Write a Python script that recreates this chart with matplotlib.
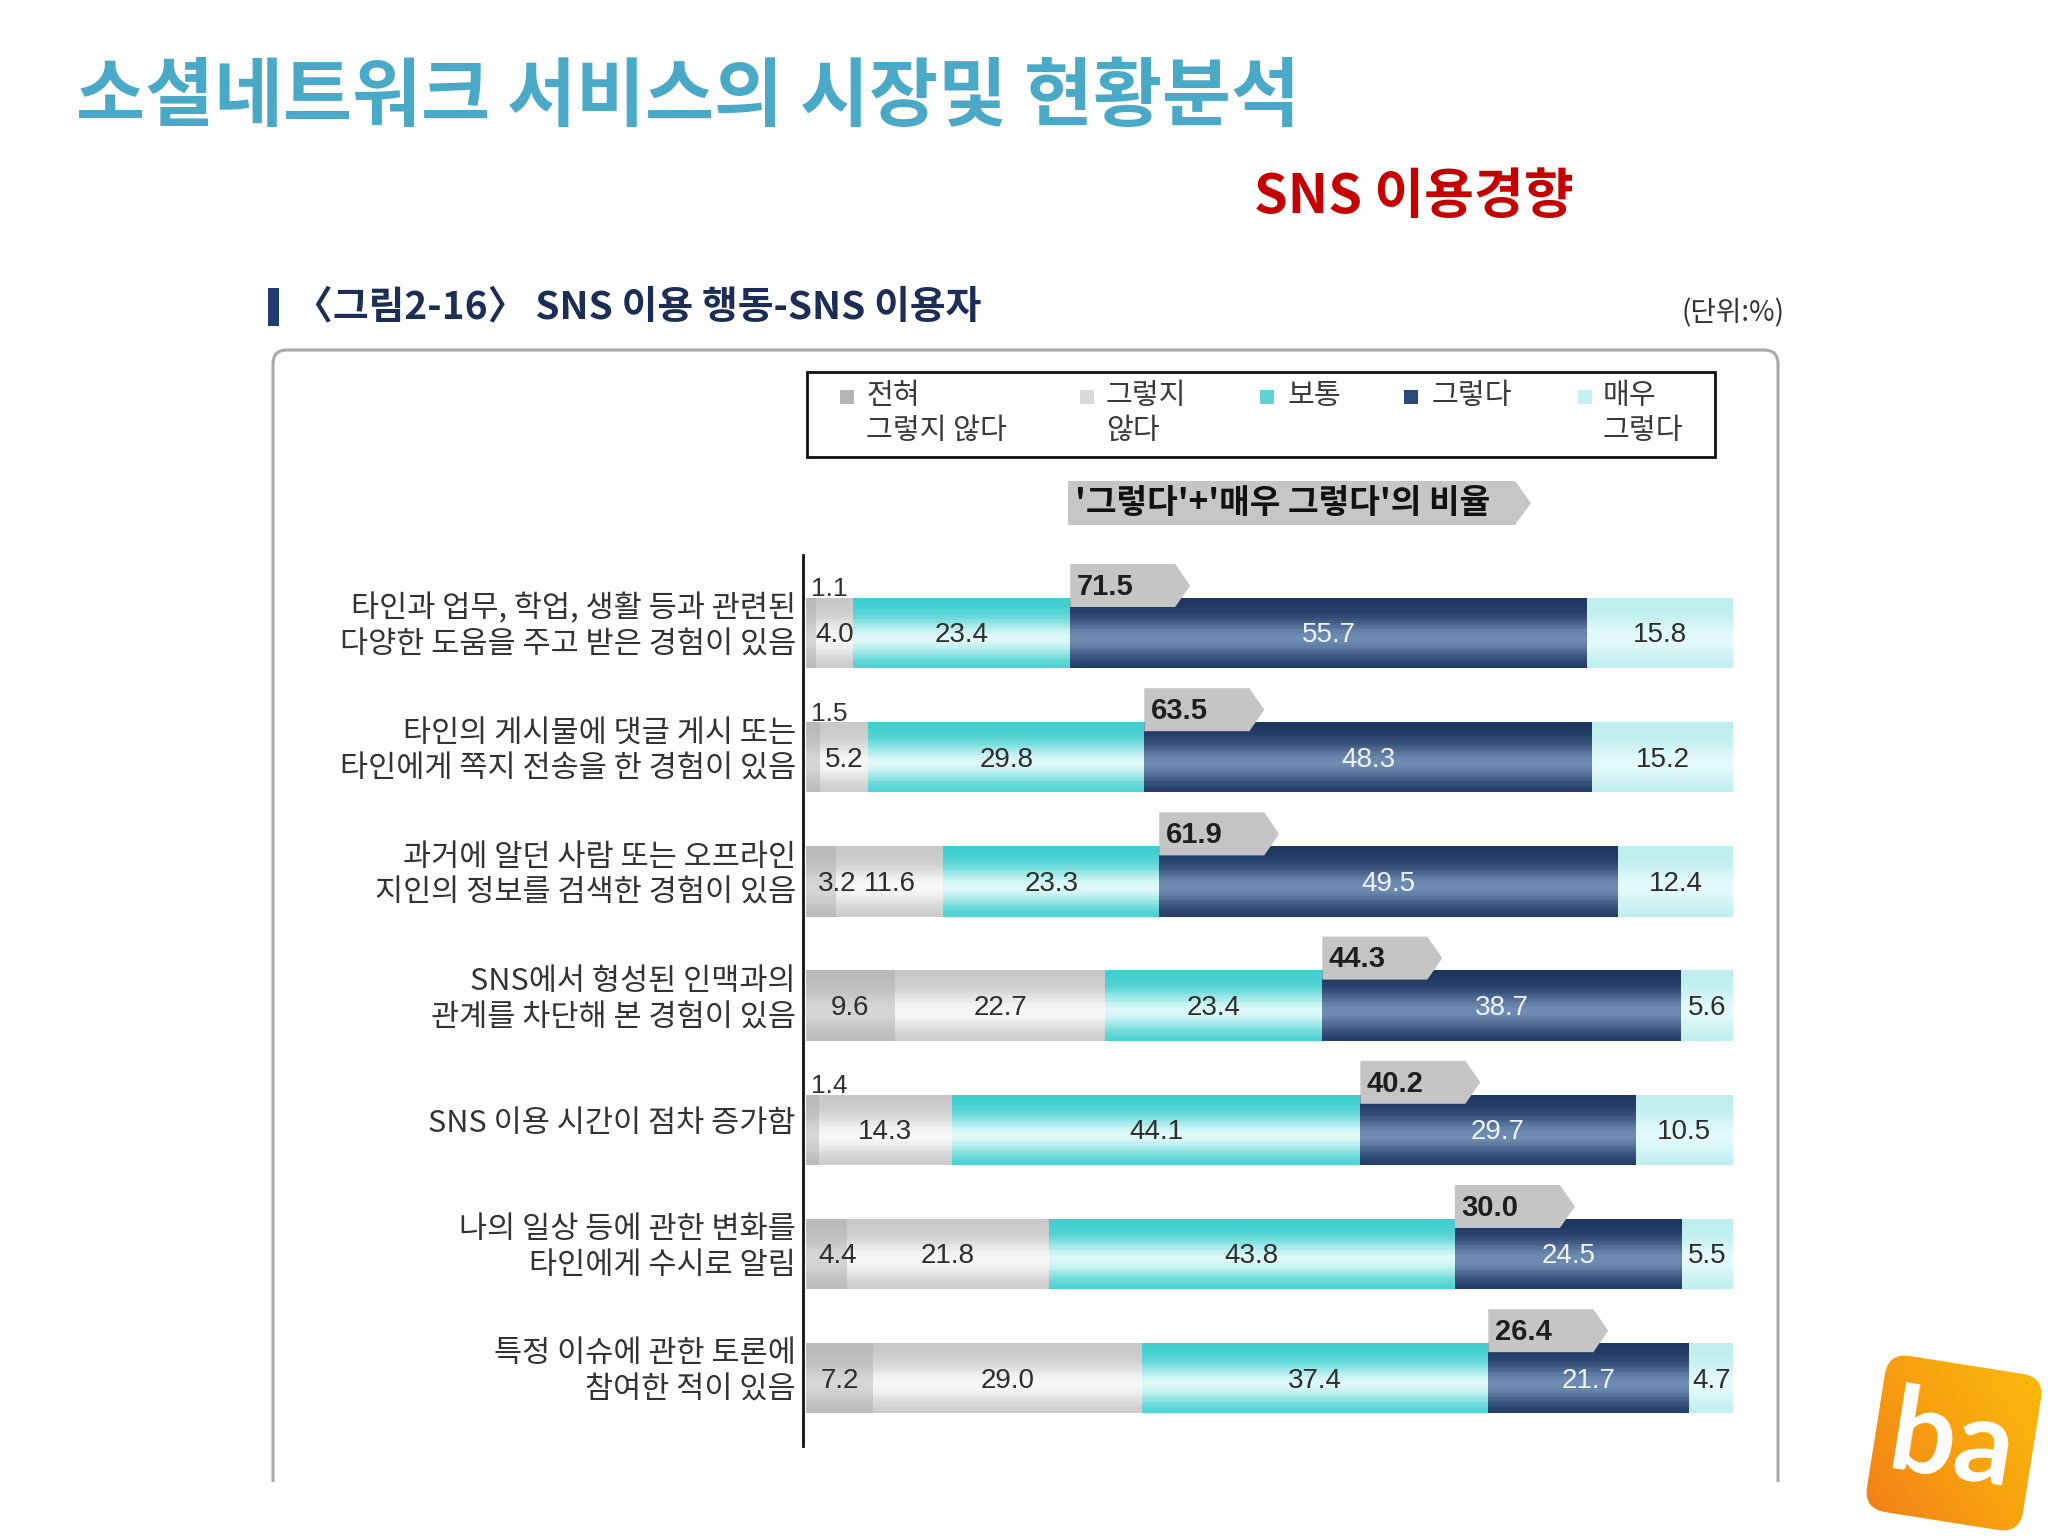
import numpy as np
import matplotlib
matplotlib.use("Agg")
import matplotlib.pyplot as plt
from matplotlib.patches import FancyBboxPatch, Rectangle, Polygon
from matplotlib import font_manager as fm
from matplotlib.colors import LinearSegmentedColormap
import matplotlib.transforms as mtrans

# ---------------- data ----------------
categories = [
    "타인과 업무, 학업, 생활 등과 관련된\n다양한 도움을 주고 받은 경험이 있음",
    "타인의 게시물에 댓글 게시 또는\n타인에게 쪽지 전송을 한 경험이 있음",
    "과거에 알던 사람 또는 오프라인\n지인의 정보를 검색한 경험이 있음",
    "SNS에서 형성된 인맥과의\n관계를 차단해 본 경험이 있음",
    "SNS 이용 시간이 점차 증가함",
    "나의 일상 등에 관한 변화를\n타인에게 수시로 알림",
    "특정 이슈에 관한 토론에\n참여한 적이 있음",
]
legend_labels = ["전혀\n그렇지 않다", "그렇지\n않다", "보통", "그렇다", "매우\n그렇다"]
strongly_disagree = [1.1, 1.5, 3.2, 9.6, 1.4, 4.4, 7.2]
disagree = [4.0, 5.2, 11.6, 22.7, 14.3, 21.8, 29.0]
neutral = [23.4, 29.8, 23.3, 23.4, 44.1, 43.8, 37.4]
agree = [55.7, 48.3, 49.5, 38.7, 29.7, 24.5, 21.7]
strongly_agree = [15.8, 15.2, 12.4, 5.6, 10.5, 5.5, 4.7]
agree_total = [71.5, 63.5, 61.9, 44.3, 40.2, 30.0, 26.4]

title = "소셜네트워크 서비스의 시장및 현황분석"
subtitle = "SNS 이용경향"
caption = "〈그림2-16〉 SNS 이용 행동-SNS 이용자"
unit = "(단위:%)"
header_tag = "'그렇다'+'매우 그렇다'의 비율"

# ---------------- fonts ----------------
avail = {f.name for f in fm.fontManager.ttflist}
KR = "Noto Sans CJK KR"
if "Liberation Sans Narrow" in avail:
    NUM, NUM_SIZE = "Liberation Sans Narrow", 23
else:
    NUM, NUM_SIZE = "Liberation Sans", 20
plt.rcParams["font.family"] = [KR, "DejaVu Sans"]

W, H, DPI = 2048, 1536, 100
fig = plt.figure(figsize=(W / DPI, H / DPI), dpi=DPI, facecolor="white")

# overlay axes in pixel coordinates (y downward)
ov = fig.add_axes([0, 0, 1, 1], zorder=0)
ov.set_xlim(0, W)
ov.set_ylim(H, 0)
ov.axis("off")

# titles
ov.text(76, 98, title, fontsize=54, fontweight="bold", color="#49a9c6",
        va="center", ha="left")
ov.text(1254, 197, subtitle, fontsize=39, fontweight="bold", color="#c40000",
        va="center", ha="left")
ov.add_patch(Rectangle((268, 288), 11, 38, color="#1f3d6e", lw=0))
ov.text(294, 307, caption, fontsize=28, fontweight="bold", color="#1c2e55",
        va="center", ha="left")
ov.text(1785, 313, unit, fontsize=20, color="#333333", va="center", ha="right")

# frame (top + sides, bottom cut)
frame = FancyBboxPatch((273, 350), 1505, 1300,
                       boxstyle="round,pad=0,rounding_size=14",
                       fc="none", ec="#a9a9a9", lw=2.2)
ov.add_patch(frame)
ov.add_patch(Rectangle((250, 1482), 1580, 80, fc="white", ec="none", zorder=3))

# legend box
ov.add_patch(Rectangle((807, 372), 908, 85, fc="white", ec="#111111", lw=2))
leg_colors = ["#b5b5b5", "#dadada", "#5fd3d3", "#2b4a7a", "#c5f1f1"]
marker_x = [840, 1080, 1260, 1404, 1578]
text_x = [866, 1106, 1288, 1432, 1603]
for mx, tx, lab, c in zip(marker_x, text_x, legend_labels, leg_colors):
    ov.add_patch(Rectangle((mx, 390), 14, 14, fc=c, ec="none"))
    ov.text(tx, 381, lab, fontsize=21, color="#3a3a3a", va="top", ha="left",
            linespacing=1.22)

# header tag
hx0, hx1, hy0, hy1, ha_ = 1068, 1531, 481, 525, 16
ov.add_patch(Polygon([(hx0, hy0), (hx1 - ha_, hy0), (hx1, (hy0 + hy1) / 2),
                      (hx1 - ha_, hy1), (hx0, hy1)], closed=True,
                     fc="#c6c6c6", ec="none"))
ov.text(hx0 + 7, (hy0 + hy1) / 2 + 1, header_tag, fontsize=24, fontweight="bold",
        color="#111111", va="center", ha="left")

# logo
cx, cy, s = 1954, 1443, 158
rot = mtrans.Affine2D().rotate_deg_around(cx, cy, 9) + ov.transData
logo = FancyBboxPatch((cx - s / 2, cy - s / 2), s, s,
                      boxstyle="round,pad=0,rounding_size=22",
                      fc="none", ec="none", transform=rot)
ov.add_patch(logo)
gx = np.linspace(0, 1, 64)
grad = (gx[None, :] * 0.6 + (1 - gx[:, None]) * 0.4)
ocmap = LinearSegmentedColormap.from_list("o", ["#f2741a", "#f7a10f", "#fcc20a"])
im = ov.imshow(grad, cmap=ocmap, extent=(cx - 110, cx + 110, cy + 110, cy - 110),
               aspect="auto", zorder=4, interpolation="bilinear")
im.set_clip_path(logo)
ov.text(cx - 2, cy + 2, "ba", fontsize=84, fontweight="bold", color="white",
        family="Lato", ha="center", va="center", rotation=-9,
        rotation_mode="anchor", zorder=5)
ov.set_xlim(0, W)
ov.set_ylim(H, 0)

# ---------------- main chart ----------------
px_per = (1733 - 806) / 100.0
x_left = -(806 - 803) / px_per
row0, row_step = 633, 124.2
ax_top, ax_bot = 555, 1446
ax = fig.add_axes([803 / W, 1 - ax_bot / H, (1733 - 803) / W, (ax_bot - ax_top) / H],
                  zorder=1)
ax.patch.set_alpha(0)
ax.set_xlim(x_left, 100)
ax.set_ylim(6 + (ax_bot - row0 - 6 * row_step) / row_step, -(row0 - ax_top) / row_step)

segments = [strongly_disagree, disagree, neutral, agree, strongly_agree]
vals = np.array(segments, dtype=float)
lefts = np.vstack([np.zeros(vals.shape[1]), np.cumsum(vals, axis=0)[:-1]])
rows = np.arange(len(categories))

edge_c = ["#b9b9b9", "#c8c8c8", "#3ecece", "#1c3660", "#bdeeee"]
mid_c = ["#d6d6d6", "#f7f7f7", "#def8f8", "#6e8bb1", "#e4fafa"]
to_rgb = matplotlib.colors.to_rgb
bh = 70 / row_step
n = 28
for k in range(n):
    t = (k + 0.5) / n
    w = np.exp(-((t - 0.58) / 0.27) ** 2)
    yk = rows - bh / 2 + (k + 0.5) * bh / n
    for si in range(5):
        c = np.array(to_rgb(edge_c[si])) * (1 - w) + np.array(to_rgb(mid_c[si])) * w
        ax.barh(yk, vals[si], left=lefts[si], height=bh / n * 1.08,
                color=tuple(c), lw=0, zorder=2)

# value labels
for i in rows:
    for si in range(5):
        v = vals[si, i]
        if si == 0 and v < 2:
            ax.text(0.5, i - bh / 2 - 0.07, f"{v:.1f}", fontsize=NUM_SIZE - 1,
                    family=NUM, color="#333333", ha="left", va="center", zorder=6)
            continue
        xc = lefts[si, i] + v / 2
        if si == 0:
            xc = max(xc, 3.4)
        col = "#eef3fa" if si == 3 else "#2d2d2d"
        ax.text(xc, i + 0.02, f"{v:.1f}", fontsize=NUM_SIZE, family=NUM, color=col,
                ha="center", va="center", zorder=6)

# '그렇다'+'매우 그렇다' tags
tw, ta = 120 / px_per, 15 / px_per
for i in rows:
    x0 = lefts[3, i]
    top = i - bh / 2 - 34 / row_step
    bot = i - bh / 2 + 9 / row_step
    mid = (top + bot) / 2
    ax.add_patch(Polygon([(x0, top), (x0 + tw - ta, top), (x0 + tw, mid),
                          (x0 + tw - ta, bot), (x0, bot)], closed=True,
                         fc="#c5c5c5", ec="none", zorder=4))
    ax.text(x0 + 0.7, mid + 0.01, f"{agree_total[i]:.1f}", fontsize=21,
            family="Liberation Sans", fontweight="bold", color="#1e1e1e",
            ha="left", va="center", zorder=6)

# category labels (right-aligned next to the axis line)
lab_tr = mtrans.blended_transform_factory(ax.transAxes, ax.transData)
lab_off = mtrans.ScaledTranslation(-7 / DPI, 0, fig.dpi_scale_trans)
for i in rows:
    ax.text(0, i - 0.05, categories[i], transform=lab_tr + lab_off,
            fontsize=22, color="#333333", ha="right", va="center",
            multialignment="right", linespacing=1.22)
ax.set_yticks([])
ax.set_xticks([])
for sp in ["top", "right", "bottom"]:
    ax.spines[sp].set_visible(False)
ax.spines["left"].set_color("#111111")
ax.spines["left"].set_linewidth(2)

fig.savefig("out.png", dpi=DPI, facecolor="white")
